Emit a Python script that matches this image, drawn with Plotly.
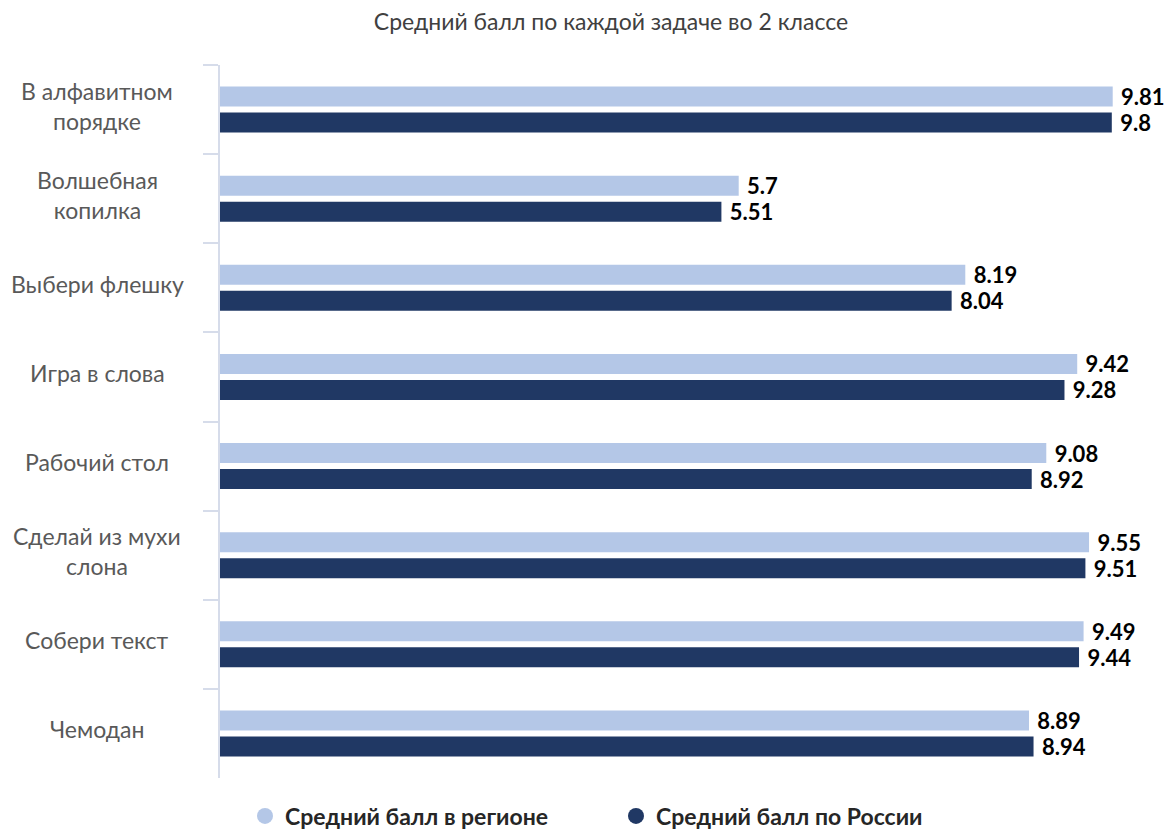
import plotly.graph_objects as go

categories = [
    "В алфавитном<br>порядке",
    "Волшебная<br>копилка",
    "Выбери флешку",
    "Игра в слова",
    "Рабочий стол",
    "Сделай из мухи<br>слона",
    "Собери текст",
    "Чемодан",
]
region_scores = [9.81, 5.7, 8.19, 9.42, 9.08, 9.55, 9.49, 8.89]
russia_scores = [9.8, 5.51, 8.04, 9.28, 8.92, 9.51, 9.44, 8.94]

series_names = ["Средний балл в регионе", "Средний балл по России"]
title_text = "Средний балл по каждой задаче во 2 классе"

LIGHT = "#b4c7e7"
DARK = "#203864"
FONT = "Lato, 'Noto Sans', sans-serif"

W, H = 1169, 831
ML, MR, MT, MB = 220, 39, 65, 53
plot_w = W - ML - MR
plot_h = H - MT - MB

fig = go.Figure()
for name, vals, color in [(series_names[0], region_scores, LIGHT),
                          (series_names[1], russia_scores, DARK)]:
    fig.add_trace(go.Bar(
        y=categories, x=vals, orientation="h", name=name,
        marker=dict(color=color, line=dict(width=0)),
        text=[f"{v:g}" for v in vals], texttemplate=" %{text}",
        textposition="outside", cliponaxis=False, constraintext="none",
        textfont=dict(family=FONT, size=22, color="#000000", weight="bold"),
        showlegend=False,
    ))
    # circle markers for the legend
    fig.add_trace(go.Scatter(
        x=[None], y=[None], mode="markers", name=name,
        marker=dict(symbol="circle", size=20, color=color),
    ))

# category labels, centred to the left of the axis
for c in categories:
    fig.add_annotation(
        x=(97 - ML) / plot_w, xref="paper", y=c, yref="y", yshift=4,
        text=c, showarrow=False, align="center",
        font=dict(family=FONT, size=23, color="#595959"),
        xanchor="center", yanchor="middle",
    )

fig.update_layout(
    width=W, height=H,
    margin=dict(l=ML, r=MR, t=MT, b=MB, autoexpand=False),
    paper_bgcolor="white", plot_bgcolor="white",
    barmode="group", bargap=0.416, bargroupgap=0.23,
    title=dict(text=title_text, x=611 / W, xanchor="center", y=1 - 22 / H, yanchor="middle",
               font=dict(family=FONT, size=23, color="#404040")),
    xaxis=dict(range=[0, 10], visible=False),
    yaxis=dict(autorange="reversed", showticklabels=False,
               showline=True, linecolor="#d6dcea", linewidth=2,
               ticks="outside", tickson="boundaries", ticklen=15,
               tickcolor="#d6dcea", tickwidth=2, showgrid=False, zeroline=False),
    legend=dict(orientation="h", x=(245 - ML) / plot_w, xanchor="left",
                y=-(816 - (H - MB)) / plot_h, yanchor="middle",
                entrywidth=326, entrywidthmode="pixels",
                font=dict(family=FONT, size=23, color="#262626", weight="bold"),
                itemsizing="trace"),
)

fig.write_html("out.html")
